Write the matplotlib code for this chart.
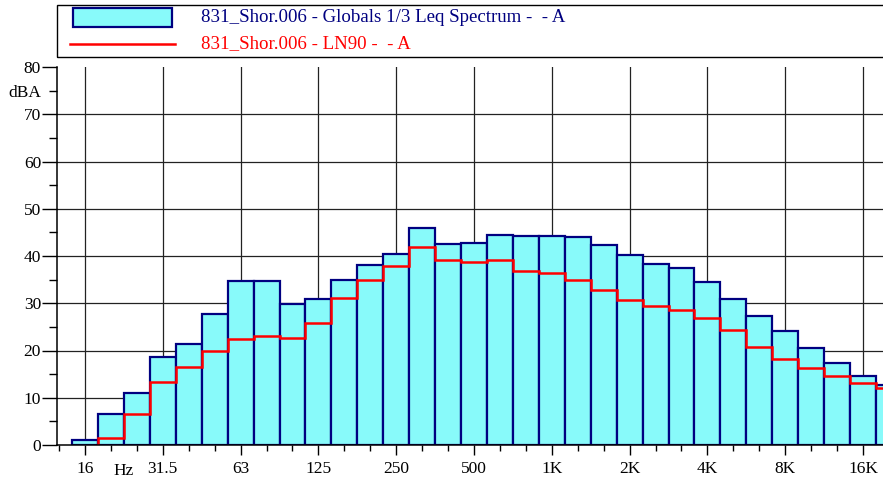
import numpy as np
import matplotlib
matplotlib.use("Agg")
import matplotlib.pyplot as plt
from matplotlib.patches import Rectangle
from matplotlib.lines import Line2D
from matplotlib.ticker import FixedLocator, FixedFormatter, NullFormatter

plt.rcParams['font.family'] = ['Liberation Serif', 'DejaVu Serif']

# 1/3 octave bands, 16 Hz .. 20 kHz
bands = ["16", "20", "25", "31.5", "40", "50", "63", "80", "100", "125", "160", "200",
         "250", "315", "400", "500", "630", "800", "1K", "1.25K", "1.6K", "2K", "2.5K",
         "3.15K", "4K", "5K", "6.3K", "8K", "10K", "12.5K", "16K", "20K"]
octave_labels = ["16", "31.5", "63", "125", "250", "500", "1K", "2K", "4K", "8K", "16K"]

leq = [1.1, 6.6, 11.0, 18.6, 21.3, 27.7, 34.7, 34.7, 29.8, 31.0, 34.9, 38.2,
       40.4, 45.9, 42.5, 42.8, 44.4, 44.2, 44.3, 44.0, 42.3, 40.2, 38.4,
       37.4, 34.4, 30.9, 27.3, 24.1, 20.5, 17.3, 14.7, 12.7]
ln90 = [None, 1.5, 6.5, 13.3, 16.5, 20.0, 22.5, 23.1, 22.7, 25.8, 31.1, 34.9,
        37.9, 41.8, 39.1, 38.7, 39.2, 36.8, 36.3, 34.9, 32.7, 30.7, 29.4,
        28.6, 26.9, 24.3, 20.8, 18.1, 16.2, 14.7, 13.1, 12.0]

W, H = 883, 482
fig = plt.figure(figsize=(W / 100, H / 100), dpi=100)
ax = fig.add_axes([57 / W, 1 - 445 / H, 1 - 57 / W, (445 - 67) / H])

k = np.arange(len(bands))
centers = 16 * 2 ** (k / 3)
lefts = 16 * 2 ** ((k - 0.5) / 3)
rights = 16 * 2 ** ((k + 0.5) / 3)

navy = '#000080'
cyan = '#88fafa'

ax.bar(lefts, leq, width=rights - lefts, align='edge', color=cyan,
       edgecolor=navy, linewidth=1.6, zorder=2)

red_vals = np.array([v for v in ln90 if v is not None])
first = ln90.index(red_vals[0])
edges = np.concatenate([lefts[first:], rights[-1:]])
ax.stairs(red_vals, edges, baseline=0, color='red', linewidth=1.8, zorder=3)

ax.set_xscale('log', base=2)
ax.set_xlim(16 * 2 ** (-28 / 77.8), 16 * 2 ** ((W - 85) / 77.8))
ax.set_ylim(0, 80)

# x ticks
oct_pos = [centers[bands.index(b)] for b in octave_labels]
minor_pos = [c for b, c in zip(bands, centers) if b not in octave_labels]
minor_pos = [16 * 2 ** (-1 / 3)] + minor_pos
ax.xaxis.set_major_locator(FixedLocator(oct_pos))
ax.xaxis.set_major_formatter(FixedFormatter(octave_labels))
ax.xaxis.set_minor_locator(FixedLocator(minor_pos))
ax.xaxis.set_minor_formatter(NullFormatter())
ax.tick_params(axis='x', which='major', direction='out', length=7.5, width=1,
               labelsize=12.5, pad=4)
ax.tick_params(axis='x', which='minor', direction='out', length=4.5, width=1)

# y ticks
ax.yaxis.set_major_locator(FixedLocator(np.arange(0, 81, 10)))
ax.yaxis.set_minor_locator(FixedLocator(np.arange(5, 80, 10)))
ax.yaxis.set_minor_formatter(FixedFormatter(['', '', '', '', '', '', '', 'dBA']))
ax.tick_params(axis='y', which='major', direction='out', length=10.5, width=1,
               labelsize=12.5, pad=1)
ax.tick_params(axis='y', which='minor', direction='out', length=6, width=1,
               labelsize=12.5, pad=5.5)

ax.text(16 * 2 ** 0.49, -0.068, "Hz", transform=ax.get_xaxis_transform(),
        ha='center', va='center', fontsize=12.5)

ax.grid(True, which='major', color='#222222', linewidth=0.9, zorder=0)
ax.set_axisbelow(True)
ax.yaxis.get_gridlines()[-1].set_visible(False)
ax.yaxis.get_gridlines()[0].set_visible(False)

for s in ['top', 'right']:
    ax.spines[s].set_visible(False)
for s in ['left', 'bottom']:
    ax.spines[s].set_linewidth(1.1)
    ax.spines[s].set_zorder(4)

# legend box
fig.patches.append(Rectangle((57 / W, 1 - 57 / H), 1, 52 / H, transform=fig.transFigure,
                             fill=False, edgecolor='black', linewidth=1))
fig.patches.append(Rectangle((73 / W, 1 - 27 / H), 99 / W, 19 / H, transform=fig.transFigure,
                             facecolor=cyan, edgecolor=navy, linewidth=1.6))
fig.lines.append(Line2D([70 / W, 175 / W], [1 - 44 / H] * 2, transform=fig.transFigure,
                        color='red', linewidth=1.8))
fig.text(201 / W, 1 - 17 / H, "831_Shor.006 - Globals 1/3 Leq Spectrum -  - A",
         color=navy, fontsize=13.6, va='center')
fig.text(201 / W, 1 - 44 / H, "831_Shor.006 - LN90 -  - A",
         color='red', fontsize=13.6, va='center')

fig.savefig("out.png", dpi=100)
plt.close(fig)
